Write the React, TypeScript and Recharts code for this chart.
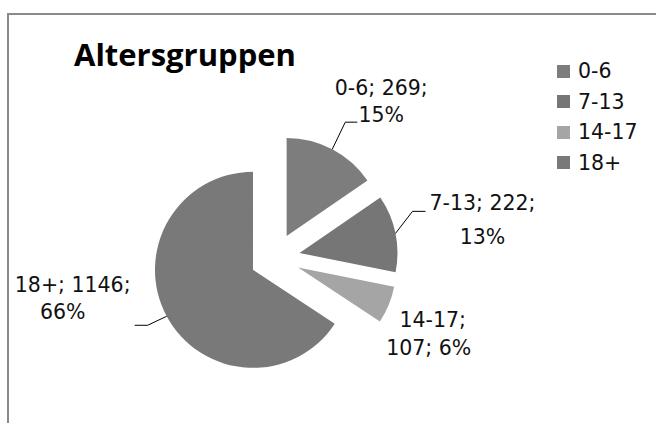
import React from "react";
import { PieChart, Pie, Cell } from "recharts";

const categories = ["0-6", "7-13", "14-17", "18+"];
const counts = [269, 222, 107, 1146];
const colors = ["#7d7d7d", "#767676", "#a5a5a5", "#797979"];

const total = counts.reduce((a, b) => a + b, 0);
const rows = categories.map((name, i) => ({
  name,
  value: counts[i],
  pct: Math.round((counts[i] / total) * 100),
}));

// layout
const CX = 275;
const CY = 258;
const R = 98;
const EXPLODE = 25;
const FONT = "'Open Sans', 'Noto Sans', sans-serif";
const LABEL_FONT = "'DejaVu Sans', sans-serif";

// mid angle in recharts degrees (ccw from 3 o'clock), pie starts at 12 o'clock clockwise
const midAngles = rows.map((_, i) => {
  const before = counts.slice(0, i).reduce((a, b) => a + b, 0);
  return 90 - (360 * (before + counts[i] / 2)) / total;
});

// label placement relative to the outer middle point of each slice
const labelLayout = [
  { lines: (r: any) => [`${r.name}; ${r.value};`, `${r.pct}%`], tx: [49, 49], ty: [-61, -34], leader: [[13, -27], [25, -27]] },
  { lines: (r: any) => [`${r.name}; ${r.value};`, `${r.pct}%`], tx: [87, 87], ty: [-30, 4], leader: [[17, -22], [30, -22]] },
  { lines: (r: any) => [`${r.name};`, `${r.value}; ${r.pct}%`], tx: [44, 40], ty: [15, 43], leader: null },
  { lines: (r: any) => [`${r.name}; ${r.value};`, `${r.pct}%`], tx: [-94, -104], ty: [-31, -4], leader: [[-19, 9], [-32, 9]] },
];

const RAD = Math.PI / 180;

const makeLabel = (slice: number) => (props: any) => {
  const { cx, cy, midAngle, outerRadius, index } = props;
  if (index !== slice) return null;
  const ox = cx + outerRadius * Math.cos(-midAngle * RAD);
  const oy = cy + outerRadius * Math.sin(-midAngle * RAD);
  const cfg = labelLayout[slice];
  const lines = cfg.lines(rows[slice]);
  return (
    <g>
      {cfg.leader && (
        <polyline
          points={`${ox},${oy} ${ox + cfg.leader[0][0]},${oy + cfg.leader[0][1]} ${ox + cfg.leader[1][0]},${oy + cfg.leader[1][1]}`}
          fill="none"
          stroke="#000"
          strokeWidth={1}
        />
      )}
      {lines.map((t: string, k: number) => (
        <text
          key={k}
          x={ox + cfg.tx[k]}
          y={oy + cfg.ty[k]}
          textAnchor="middle"
          dominantBaseline="central"
          fontFamily={LABEL_FONT}
          fontSize={20.5}
          fill="#111"
        >
          {t}
        </text>
      ))}
    </g>
  );
};

const App = () => {
  return (
    <div style={{ position: "absolute", left: 0, top: 0, width: 656, height: 423, overflow: "hidden", background: "#fff" }}>
      <div
        style={{
          position: "absolute",
          left: 7,
          top: 13,
          width: 700,
          height: 500,
          borderLeft: "2px solid #8a8a8a",
          borderTop: "2px solid #8a8a8a",
        }}
      />
      <div
        style={{
          position: "absolute",
          left: 74,
          top: 35,
          fontFamily: FONT,
          fontWeight: 700,
          fontSize: 31,
          lineHeight: "38px",
          color: "#000",
        }}
      >
        Altersgruppen
      </div>
      <div style={{ position: "absolute", left: 557, top: 56, fontFamily: LABEL_FONT, fontSize: 20.5, color: "#111" }}>
        {rows.map((r, i) => (
          <div key={r.name} style={{ display: "flex", alignItems: "center", height: 30.5 }}>
            <span style={{ width: 13, height: 13, background: colors[i], display: "inline-block", marginRight: 8 }} />
            <span style={{ lineHeight: "30px" }}>{r.name}</span>
          </div>
        ))}
      </div>
      <div style={{ position: "absolute", left: 0, top: 0 }}>
        <PieChart width={656} height={423} margin={{ top: 0, right: 0, bottom: 0, left: 0 }}>
          {rows.map((_, i) => (
            <Pie
              key={i}
              data={rows}
              dataKey="value"
              nameKey="name"
              cx={CX + EXPLODE * Math.cos(-midAngles[i] * RAD)}
              cy={CY + EXPLODE * Math.sin(-midAngles[i] * RAD)}
              outerRadius={R}
              startAngle={90}
              endAngle={-270}
              stroke="none"
              label={makeLabel(i)}
              labelLine={false}
              isAnimationActive={false}
            >
              {rows.map((r, j) => (
                <Cell key={r.name} fill={j === i ? colors[j] : "transparent"} />
              ))}
            </Pie>
          ))}
        </PieChart>
      </div>
    </div>
  );
};

export default App;
